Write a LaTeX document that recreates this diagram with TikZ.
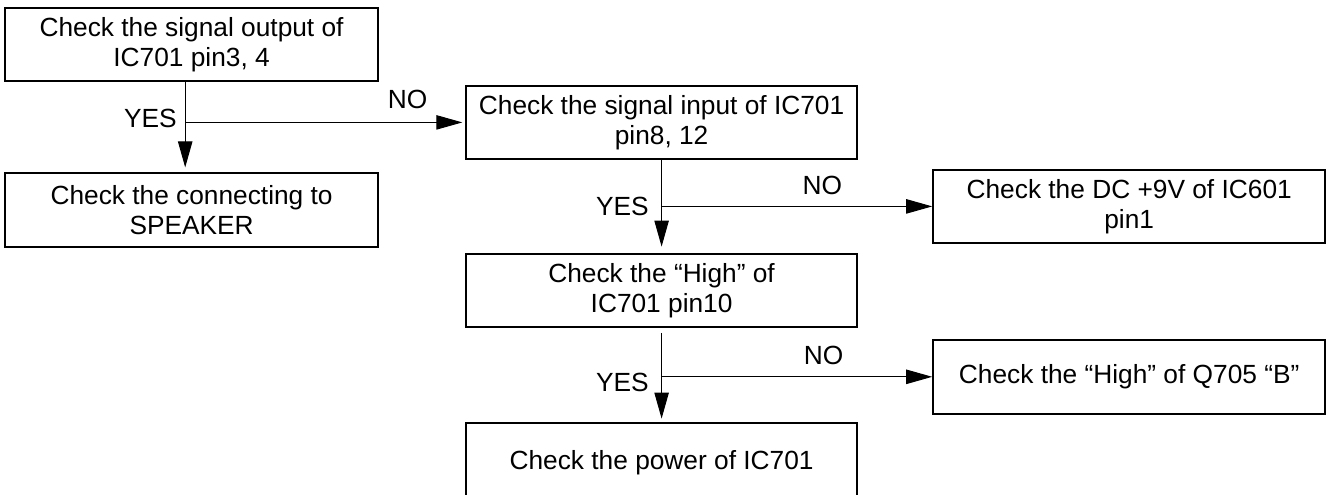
\documentclass[tikz,border=0pt]{standalone}
\usepackage{fontspec}
\setmainfont{Liberation Sans}
\usetikzlibrary{arrows.meta,positioning,calc}

\begin{document}
\begin{tikzpicture}[
    chkbox/.style={draw, line width=1.4pt, align=center, minimum height=1.84cm, inner sep=0pt, font=\fontsize{18.7}{21.5}\selectfont},
    flow/.style={line width=0.7pt, -{Triangle[length=6.5mm,width=3.6mm]}},
    lbl/.style={font=\fontsize{18.7}{21.5}\selectfont, inner sep=0pt}
]
    \useasboundingbox (0,0) rectangle (33.225,-12.35);

    % Left column
    \node [chkbox, minimum width=9.325cm] (out) at (4.79,-1.11) {Check the signal output of\\IC701 pin3, 4};
    \node [chkbox, minimum width=9.325cm] (spk) at (4.79,-5.25) {Check the connecting to\\SPEAKER};

    % Middle column
    \node [chkbox, minimum width=9.775cm] (in) at (16.54,-3.06) {Check the signal input of IC701\\pin8, 12};
    \node [chkbox, minimum width=9.775cm] (high) at (16.54,-7.26) {Check the ``High'' of\\IC701 pin10};
    \node [chkbox, minimum width=9.775cm, minimum height=2cm] (pwr) at (16.54,-11.57) {Check the power of IC701};

    % Right column
    \node [chkbox, minimum width=9.8cm] (dc) at (28.23,-5.16) {Check the DC +9V of IC601\\pin1};
    \node [chkbox, minimum width=9.8cm] (q) at (28.23,-9.42) {Check the ``High'' of Q705 ``B''};

    % Connectors
    \draw [flow, shorten >=1.2mm] ([xshift=-1.6mm]out.south) -- ([xshift=-1.6mm]spk.north);
    \coordinate (j1) at ([xshift=-1.6mm]out.south |- in.west);
    \draw [flow, shorten >=0.7mm] (j1) -- (in.west);

    \draw [flow, shorten >=1.5mm] (in.south) -- (high.north);
    \coordinate (j2) at (in.south |- dc.west);
    \draw [flow] (j2) -- (dc.west);

    \draw [flow, shorten <=1.2mm, shorten >=0.8mm] (high.south) -- (pwr.north);
    \coordinate (j3) at (high.south |- q.west);
    \draw [flow] (j3) -- (q.west);

    % Labels
    \node [lbl] (yes1) at (3.76,-2.96) {YES};
    \node [lbl] (no1) at (10.19,-2.475) {NO};
    \node [lbl] (yes2) at (15.56,-5.15) {YES};
    \node [lbl] (no2) at (20.56,-4.625) {NO};
    \node [lbl] (yes3) at (15.56,-9.55) {YES};
    \node [lbl] (no3) at (20.59,-8.875) {NO};
\end{tikzpicture}
\end{document}
